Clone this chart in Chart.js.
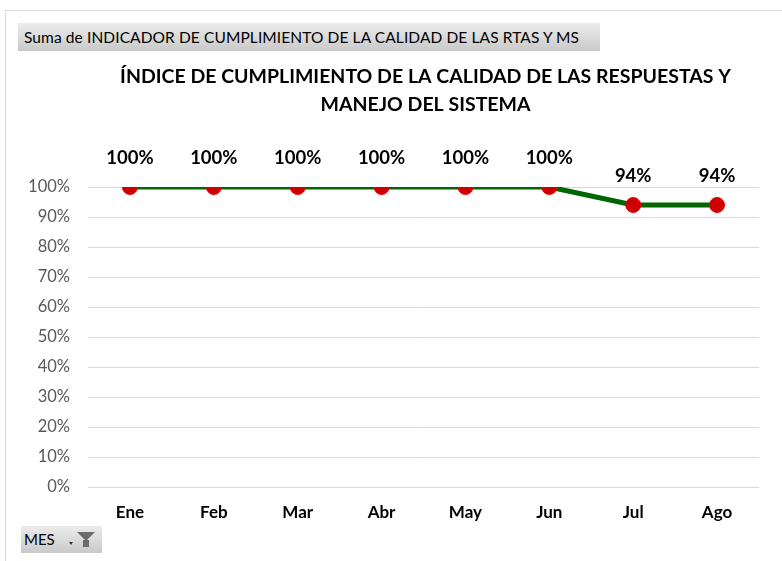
<!DOCTYPE html>
<html><head><meta charset="utf-8">
<script src="https://cdn.jsdelivr.net/npm/chart.js@4/dist/chart.umd.min.js"></script>
<style>
html,body{margin:0;padding:0;background:#fff;}
#wrap{position:relative;width:782px;height:561px;overflow:hidden;font-family:Lato,"Open Sans",sans-serif;}
#frame{position:absolute;left:5px;top:10px;width:800px;height:600px;border-left:1px solid #d9d9d9;border-top:1px solid #d9d9d9;}
canvas{position:absolute;left:0;top:0;}
.btn{position:absolute;background:linear-gradient(#ececec,#c9c9c9);color:#000;box-sizing:border-box;line-height:28px;white-space:nowrap;}
#b1{left:18px;top:23px;width:582px;height:28px;padding-left:6px;font-size:15.5px;letter-spacing:0.1px;}
#b2{left:21px;top:526px;width:81px;height:27px;padding-left:3px;font-size:15px;line-height:27px;}
#b2 .arr{position:absolute;left:48px;top:16px;width:0;height:0;border-left:2.5px solid transparent;border-right:2.5px solid transparent;border-top:3px solid #333;}
#b2 .fun{position:absolute;left:56px;top:6px;width:0;height:0;border-left:9px solid transparent;border-right:9px solid transparent;border-top:9px solid #6b6b6b;}
#b2 .stem{position:absolute;left:62px;top:14px;width:6px;height:7px;background:#6b6b6b;}
</style></head>
<body><div id="wrap">
<div id="frame"></div>
<canvas id="c" width="782" height="561"></canvas>
<div class="btn" id="b1">Suma de INDICADOR DE CUMPLIMIENTO DE LA CALIDAD DE LAS RTAS Y MS</div>
<div class="btn" id="b2">MES<span class="arr"></span><span class="fun"></span><span class="stem"></span></div>
</div>
<script>
const months = ["Ene","Feb","Mar","Abr","May","Jun","Jul","Ago"];
const indicador = [1.00,1.00,1.00,1.00,1.00,1.00,0.94,0.94];
const titleLines = ["ÍNDICE DE CUMPLIMIENTO DE LA CALIDAD DE LAS RESPUESTAS Y","MANEJO DEL SISTEMA"];

const FONT = 'Lato, "Open Sans", sans-serif';

const titlePlugin = {
  id:'customTitle',
  afterDraw(chart){
    const ctx = chart.ctx, a = chart.chartArea;
    const cx = (a.left + a.right)/2 + 2;
    ctx.save();
    ctx.fillStyle = '#000';
    ctx.font = 'bold 19.5px ' + FONT;
    ctx.textAlign = 'center';
    ctx.textBaseline = 'middle';
    ctx.fillText(titleLines[0], cx, 77);
    ctx.fillText(titleLines[1], cx, 105);
    ctx.restore();
  }
};
const labelPlugin = {
  id:'dataLabels',
  afterDatasetsDraw(chart){
    const ctx = chart.ctx;
    const meta = chart.getDatasetMeta(0);
    ctx.save();
    ctx.fillStyle = '#000';
    ctx.font = 'bold 18.5px ' + FONT;
    ctx.textAlign = 'center';
    ctx.textBaseline = 'middle';
    meta.data.forEach((pt,i)=>{
      ctx.fillText(Math.round(indicador[i]*100)+'%', pt.x, pt.y - 29);
    });
    ctx.restore();
  }
};

new Chart(document.getElementById('c'), {
  type:'line',
  data:{
    labels: months,
    datasets:[{
      data: indicador,
      borderColor:'#006600',
      borderWidth:5,
      pointRadius:7.5,
      pointHoverRadius:7.5,
      pointBackgroundColor:'#cc0000',
      pointBorderColor:'#ee0000',
      pointBorderWidth:1,
      tension:0,
      fill:false
    }]
  },
  options:{
    responsive:false,
    animation:false,
    events:[],
    layout:{padding:{top:187,right:23,bottom:34,left:0}},
    plugins:{legend:{display:false},tooltip:{enabled:false},title:{display:false}},
    scales:{
      x:{
        offset:true,
        grid:{display:false,drawTicks:false},
        border:{display:false},
        ticks:{color:'#000',padding:15,font:{family:FONT,size:17,weight:'bold'}},
        afterFit(s){s.height=40;}
      },
      y:{
        min:0,max:1,
        grid:{color:'#d9d9d9',lineWidth:1,drawTicks:false},
        border:{display:false},
        ticks:{stepSize:0.1,color:'#595959',padding:18,font:{family:FONT,size:16.5},
          callback:v=>Math.round(v*100)+'%'},
        afterFit(s){s.width=88;}
      }
    }
  },
  plugins:[titlePlugin,labelPlugin]
});
</script>
</body></html>
